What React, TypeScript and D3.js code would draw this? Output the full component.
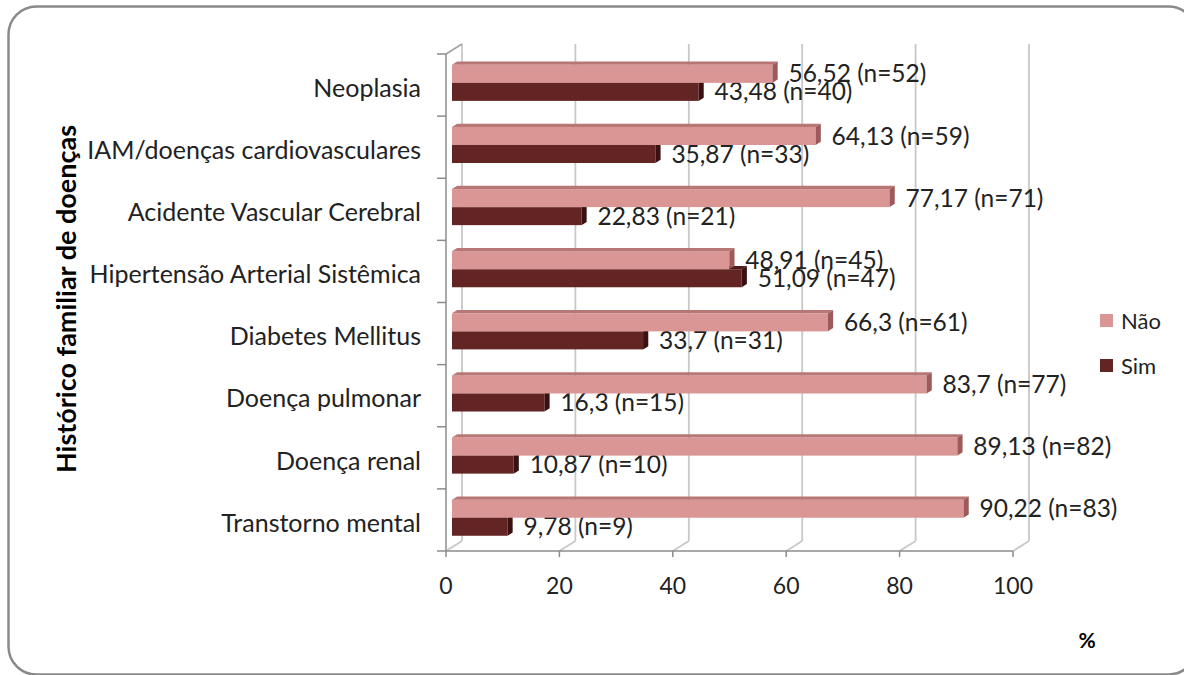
import React from "react";
import * as d3 from "d3";

const categories = [
  "Neoplasia",
  "IAM/doenças cardiovasculares",
  "Acidente Vascular Cerebral",
  "Hipertensão Arterial Sistêmica",
  "Diabetes Mellitus",
  "Doença pulmonar",
  "Doença renal",
  "Transtorno mental",
];
const naoValues = [56.52, 64.13, 77.17, 48.91, 66.3, 83.7, 89.13, 90.22];
const naoN = [52, 59, 71, 45, 61, 77, 82, 83];
const simValues = [43.48, 35.87, 22.83, 51.09, 33.7, 16.3, 10.87, 9.78];
const simN = [40, 33, 21, 47, 31, 15, 10, 9];
const xTicks = [0, 20, 40, 60, 80, 100];
const seriesNames = ["Não", "Sim"];

const FONT = "Lato, 'Open Sans', sans-serif";

const fmt = (v: number) => String(v).replace(".", ",");

export default function App() {
  const W = 1184, H = 675;
  const x = d3.scaleLinear().domain([0, 100]).range([446, 1013]);
  const y = d3.scaleBand<string>().domain(categories).range([54, 551]).padding(0);
  const bw = y.bandwidth();
  const DX = 16, DY = -10; // depth vector
  const f0 = 0.375, f1 = 0.7;
  const ox = DX * f0, oy = DY * f0;
  const sdx = DX * (f1 - f0), sdy = DY * (f1 - f0);
  const inner = d3.scaleBand<string>().domain(seriesNames).range([bw * 0.235, bw * 0.815]).padding(0);

  const colors: Record<string, { front: string; top: string; side: string }> = {
    "Não": { front: "#D99694", top: "#B87675", side: "#9C5B5A" },
    "Sim": { front: "#632523", top: "#4E1C1A", side: "#3A1110" },
  };

  const bar = (cat: string, s: string, v: number, n: number, key: string) => {
    const c = colors[s];
    const x0 = x(0) + ox;
    const x1 = x(v) + ox;
    const yt = (y(cat) as number) + (inner(s) as number) + oy;
    const yb = yt + inner.bandwidth();
    const topPts = [[x0, yt], [x1, yt], [x1 + sdx, yt + sdy], [x0 + sdx, yt + sdy]];
    const sidePts = [[x1, yt], [x1 + sdx, yt + sdy], [x1 + sdx, yb + sdy], [x1, yb]];
    return (
      <g key={key}>
        <rect x={x0} y={yt} width={x1 - x0} height={yb - yt} fill={c.front} />
        <polygon points={topPts.map((p) => p.join(",")).join(" ")} fill={c.top} />
        <polygon points={sidePts.map((p) => p.join(",")).join(" ")} fill={c.side} />
        <text x={x1 + 16} y={(yt + yb) / 2} dy="0.35em" fontSize={24.5} fill="#222" fontFamily={FONT}>
          {`${fmt(v)} (n=${n})`}
        </text>
      </g>
    );
  };

  const catTicks = [...categories.map((c) => y(c) as number), 551];

  return (
    <svg width={W} height={H} style={{ position: "absolute", left: 0, top: 0 }}>
      <rect x={0} y={0} width={W} height={H} fill="#fff" />
      <rect x={8.5} y={6.5} width={1188} height={668} rx={28} fill="#fff" stroke="#8a8a8a" strokeWidth={2.5} />
      {/* back wall gridlines */}
      {xTicks.map((t) => (
        <g key={"g" + t}>
          <line x1={x(t) + DX} x2={x(t) + DX} y1={54 + DY} y2={551 + DY} stroke="#c8c8c8" strokeWidth={1.8} />
          <line x1={x(t)} x2={x(t) + DX} y1={551} y2={551 + DY} stroke="#c8c8c8" strokeWidth={1.8} />
        </g>
      ))}
      <line x1={446} x2={446 + DX} y1={54} y2={54 + DY} stroke="#a0a0a0" strokeWidth={1.5} />
      {/* axes */}
      <line x1={446} x2={446} y1={54} y2={551} stroke="#8c8c8c" strokeWidth={1.5} />
      <line x1={446} x2={x(100)} y1={551} y2={551} stroke="#8c8c8c" strokeWidth={1.5} />
      {catTicks.map((t, i) => (
        <line key={"ct" + i} x1={437} x2={446} y1={t} y2={t} stroke="#8c8c8c" strokeWidth={1.5} />
      ))}
      {xTicks.map((t) => (
        <g key={"xt" + t}>
          <line x1={x(t)} x2={x(t)} y1={551} y2={557} stroke="#8c8c8c" strokeWidth={1.5} />
          <text x={x(t)} y={586} dy="0.35em" textAnchor="middle" fontSize={23} fill="#222" fontFamily={FONT}>
            {t}
          </text>
        </g>
      ))}
      {/* bars */}
      {categories.map((c, i) => (
        <g key={c}>
          {bar(c, "Sim", simValues[i], simN[i], "s" + i)}
          {bar(c, "Não", naoValues[i], naoN[i], "n" + i)}
        </g>
      ))}
      {/* category labels */}
      {categories.map((c) => (
        <text key={"cl" + c} x={421} y={(y(c) as number) + bw / 2 + 3} dy="0.35em" textAnchor="end" fontSize={25} fill="#222" fontFamily={FONT}>
          {c}
        </text>
      ))}
      {/* axis titles */}
      <text transform="translate(67,299) rotate(-90)" textAnchor="middle" dy="0.35em" fontSize={27} fontWeight="bold" fill="#000" fontFamily={FONT}>
        Histórico familiar de doenças
      </text>
      <text x={1087} y={641} dy="0.35em" textAnchor="middle" fontSize={21} fontWeight="bold" fill="#000" fontFamily={FONT}>
        %
      </text>
      {/* legend */}
      {seriesNames.map((s, i) => (
        <g key={"lg" + s}>
          <rect x={1100} y={314 + i * 45} width={13} height={13} fill={colors[s].front} />
          <text x={1121} y={321 + i * 45} dy="0.35em" fontSize={22} fill="#222" fontFamily={FONT}>
            {s}
          </text>
        </g>
      ))}
    </svg>
  );
}
